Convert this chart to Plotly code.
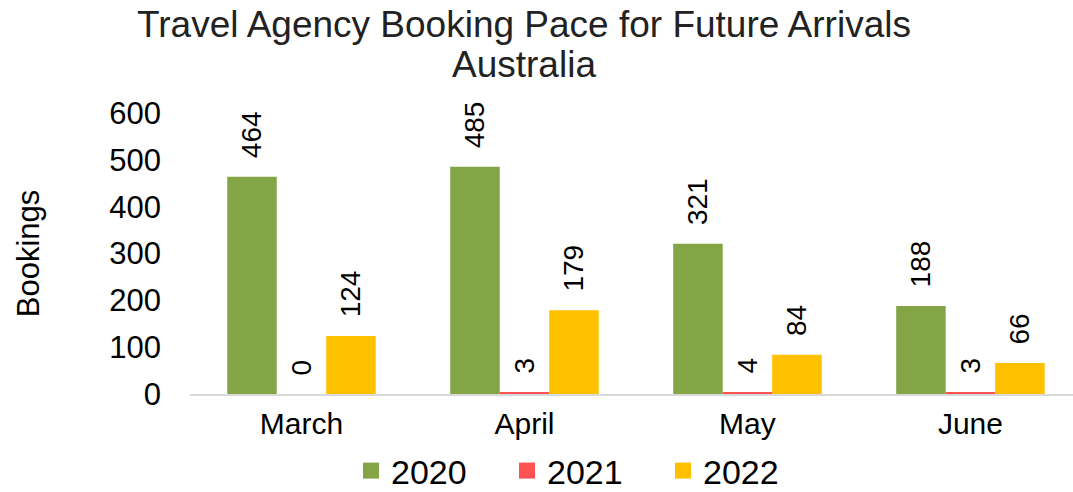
import plotly.graph_objects as go

months = ["March", "April", "May", "June"]
series_names = ["2020", "2021", "2022"]
v2020 = [464, 485, 321, 188]
v2021 = [0, 3, 4, 3]
v2022 = [124, 179, 84, 66]
colors = ["#84A545", "#FF5353", "#FFC000"]
y_ticks = [0, 100, 200, 300, 400, 500, 600]

FONT = "Liberation Sans, Arial, sans-serif"
fig = go.Figure()
for name, vals, col in zip(series_names, [v2020, v2021, v2022], colors):
    fig.add_trace(go.Bar(
        x=months, y=vals, name=name, marker=dict(color=col, line=dict(width=0)),
        text=["\u00a0\u00a0" + str(v) for v in vals], textposition="outside",
        textangle=-90, constraintext="none", cliponaxis=False,
        textfont=dict(family=FONT, size=28, color="#000"),
        showlegend=False, legendgroup=name,
    ))
# legend entries (square swatches like the reference)
for name, col in zip(series_names, colors):
    fig.add_trace(go.Scatter(
        x=[None], y=[None], mode="markers", name=name, legendgroup=name,
        marker=dict(symbol="square", size=18, color=col), showlegend=True,
    ))

PLOT_TOP, PLOT_BOT = 113, 394
def py(pix):
    return (PLOT_BOT - pix) / (PLOT_BOT - PLOT_TOP)

fig.update_layout(
    width=1073, height=492,
    margin=dict(l=190, r=0, t=PLOT_TOP, b=492 - PLOT_BOT),
    paper_bgcolor="white", plot_bgcolor="white",
    barmode="group", bargap=0.334, bargroupgap=0,
    font=dict(family=FONT, color="#000"),
    showlegend=True,
    legend=dict(orientation="h", xref="container", yref="container",
                x=351/1073, xanchor="left", y=21/492, yanchor="middle",
                font=dict(size=34, family=FONT, color="#000"),
                entrywidth=111, entrywidthmode="pixels", traceorder="normal",
                itemsizing="trace"),
    annotations=[
        dict(text="Travel Agency Booking Pace for Future Arrivals", xref="paper", yref="paper",
             x=(524-190)/883, y=py(24), yanchor="middle", xanchor="center", showarrow=False,
             font=dict(size=37, family=FONT, color="#222")),
        dict(text="Australia", xref="paper", yref="paper",
             x=(524-190)/883, y=py(64), yanchor="middle", xanchor="center", showarrow=False,
             font=dict(size=37, family=FONT, color="#222")),
    ],
)
fig.update_xaxes(type="category", range=[-0.5, 3.46], showgrid=False, showline=True,
                 linecolor="#D9D9D9", linewidth=2, ticks="", ticklabelstandoff=2,
                 tickfont=dict(size=30, family=FONT, color="#000"), fixedrange=True)
fig.update_yaxes(range=[0, 600], tickvals=y_ticks, showgrid=False, showline=False,
                 zeroline=False, ticks="", ticklabelstandoff=28,
                 tickfont=dict(size=31, family=FONT, color="#000"),
                 title=dict(text="Bookings", standoff=60, font=dict(size=31, family=FONT, color="#000")))

fig.write_html("out.html")
